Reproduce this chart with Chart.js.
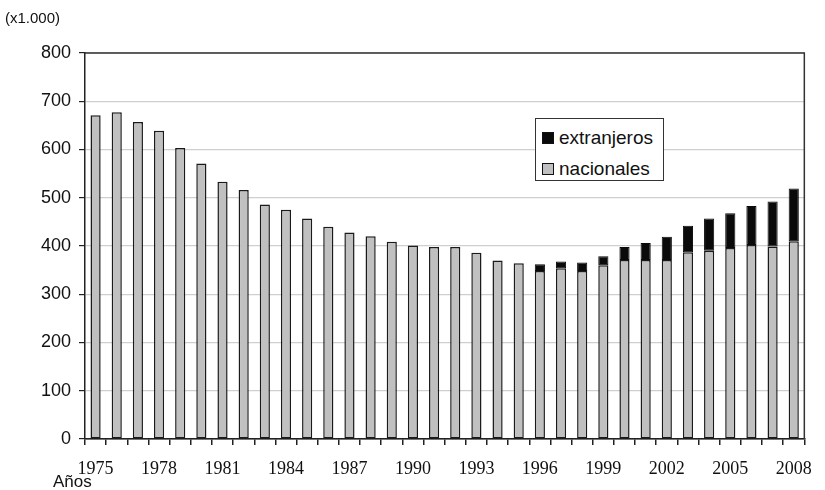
<!DOCTYPE html>
<html>
<head>
<meta charset="utf-8">
<script src="https://cdn.jsdelivr.net/npm/chart.js@4"></script>
<style>
  html, body { margin: 0; padding: 0; background: #fff; }
  #wrap { position: relative; width: 825px; height: 490px; }
  .note { position: absolute; font-family: "Liberation Sans", Arial, sans-serif; color: #111; white-space: nowrap; }
  #legend { position: absolute; left: 535px; top: 118px; width: 127px; height: 61px; border: 1.5px solid #333; background: #fff;
            font-family: "Liberation Sans", Arial, sans-serif; font-size: 19px; color: #111; }
  #legend div { position: absolute; left: 6px; line-height: 22px; white-space: nowrap; }
  #legend span.box { display: inline-block; width: 10px; height: 10px; border: 1px solid #111; margin-right: 5px; vertical-align: 0px; }
</style>
</head>
<body>
<div id="wrap">
  <canvas id="chart" width="825" height="490"></canvas>
  <div class="note" style="left:5px; top:9px; font-size:15px;">(x1.000)</div>
  <div class="note" style="left:53px; top:472px; font-size:17px;">Años</div>
  <div id="legend"></div>
</div>
<script>
const years = [
  '1975','1976','1977','1978','1979','1980','1981','1982','1983','1984',
  '1985','1986','1987','1988','1989','1990','1991','1992','1993','1994',
  '1995','1996','1997','1998','1999','2000','2001','2002','2003','2004',
  '2005','2006','2007','2008'
];
const nacionales = [
  671, 677, 657, 639, 603, 571, 533, 516, 486, 475,
  457, 440, 428, 420, 409, 401, 398, 398, 386, 370,
  364, 348, 354, 348, 360, 371, 371, 371, 387, 390,
  396, 402, 399, 410
];
const extranjeros = [
  0, 0, 0, 0, 0, 0, 0, 0, 0, 0,
  0, 0, 0, 0, 0, 0, 0, 0, 0, 0,
  0, 14, 14, 18, 19, 27, 35, 48, 55, 67,
  72, 81, 93, 109
];
const yTicks = [0, 100, 200, 300, 400, 500, 600, 700, 800];

// top and right edge of the plot box
const frame = {
  id: 'frame',
  afterDatasetsDraw(chart) {
    const a = chart.chartArea, ctx = chart.ctx;
    ctx.save();
    ctx.strokeStyle = '#333';
    ctx.lineWidth = 1.5;
    ctx.beginPath();
    ctx.moveTo(a.left, a.top);
    ctx.lineTo(a.right, a.top);
    ctx.lineTo(a.right, a.bottom);
    ctx.stroke();
    ctx.restore();
  }
};

const chart = new Chart(document.getElementById('chart'), {
  type: 'bar',
  data: {
    labels: years,
    datasets: [
      { label: 'nacionales', data: nacionales, backgroundColor: '#c0c0c0', borderColor: '#1a1a1a', borderWidth: 1.5, borderSkipped: false },
      { label: 'extranjeros', data: extranjeros, backgroundColor: '#0a0a0a', borderColor: '#0a0a0a',
        borderWidth: ctx => ctx.raw ? 1 : 0, borderSkipped: false }
    ]
  },
  options: {
    responsive: false,
    animation: false,
    layout: { padding: { left: 0, right: 17, top: 53, bottom: 0 } },
    plugins: { legend: { display: false }, tooltip: { enabled: false } },
    datasets: { bar: { categoryPercentage: 1, barPercentage: 0.48 } },
    scales: {
      x: {
        stacked: true,
        afterFit: s => { s.height = 51; },
        grid: { offset: true, drawOnChartArea: false, tickLength: 6, color: '#222', lineWidth: 1.5 },
        border: { color: '#222', width: 1.5 },
        ticks: {
          autoSkip: false, maxRotation: 0, padding: 13, color: '#111',
          font: { family: '"Liberation Serif", "Times New Roman", serif', size: 18 },
          callback: function (v, i) { return i % 3 === 0 ? years[i] : ''; }
        }
      },
      y: {
        stacked: true,
        min: 0, max: 800,
        afterFit: s => { s.width = 85; },
        afterBuildTicks: s => { s.ticks = yTicks.map(v => ({ value: v })); },
        grid: {
          color: ctx => ctx.tick && ctx.tick.value === 0 ? '#222' : '#cfcfcf',
          lineWidth: 1.2, tickLength: 6, tickColor: '#222'
        },
        border: { color: '#222', width: 1.5 },
        ticks: { padding: 8, color: '#111', font: { family: '"Liberation Sans", Arial, sans-serif', size: 18 } }
      }
    }
  },
  plugins: [frame]
});

// legend from datasets, extranjeros first
const legend = document.getElementById('legend');
chart.data.datasets.slice().reverse().forEach((ds, i) => {
  const row = document.createElement('div');
  row.style.top = (8 + i * 31) + 'px';
  row.innerHTML = '<span class="box" style="background:' + ds.backgroundColor + '"></span>' + ds.label;
  legend.appendChild(row);
});
</script>
</body>
</html>
